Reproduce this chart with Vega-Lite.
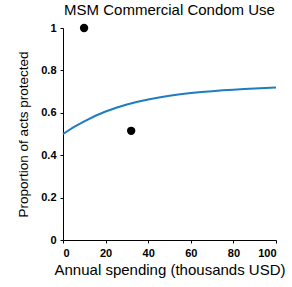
{
  "$schema": "https://vega.github.io/schema/vega-lite/v6.json",
  "width": 213,
  "height": 212,
  "autosize": "none",
  "padding": {"left": 63, "top": 28, "right": 16, "bottom": 47},
  "background": "white",
  "config": {
    "view": {"stroke": null},
    "font": "Liberation Sans"
  },
  "title": {
    "text": "MSM Commercial Condom Use",
    "fontSize": 15,
    "fontWeight": "normal",
    "font": "Liberation Sans",
    "color": "black",
    "anchor": "middle",
    "offset": 4
  },
  "datasets": {
    "curve": [
      {"x": 0, "y": 0.5}, {"x": 5, "y": 0.532}, {"x": 10, "y": 0.560}, {"x": 15, "y": 0.585},
      {"x": 20, "y": 0.606}, {"x": 25, "y": 0.624}, {"x": 30, "y": 0.639}, {"x": 35, "y": 0.652},
      {"x": 40, "y": 0.663}, {"x": 45, "y": 0.672}, {"x": 50, "y": 0.680}, {"x": 55, "y": 0.687},
      {"x": 60, "y": 0.693}, {"x": 65, "y": 0.698}, {"x": 70, "y": 0.702}, {"x": 75, "y": 0.706},
      {"x": 80, "y": 0.709}, {"x": 85, "y": 0.712}, {"x": 90, "y": 0.715}, {"x": 95, "y": 0.717},
      {"x": 100, "y": 0.719}
    ],
    "points": [
      {"x": 9.9, "y": 1.0},
      {"x": 32, "y": 0.515}
    ]
  },
  "layer": [
    {
      "data": {"name": "curve"},
      "mark": {"type": "line", "color": "#1f7cc1", "strokeWidth": 2},
      "encoding": {
        "x": {
          "field": "x", "type": "quantitative",
          "scale": {"domain": [0, 100], "nice": false},
          "axis": {
            "title": "Annual spending (thousands USD)",
            "titleFontSize": 15, "titleFontWeight": "normal", "titleColor": "black",
            "titlePadding": 4,
            "values": [0, 20, 40, 60, 80, 100],
            "labelFontSize": 11, "labelFontWeight": "bold", "labelColor": "black",
            "domainColor": "black", "tickColor": "black", "tickSize": 3,
            "grid": false, "labelPadding": 4
          }
        },
        "y": {
          "field": "y", "type": "quantitative",
          "scale": {"domain": [0, 1], "nice": false},
          "axis": {
            "title": "Proportion of acts protected",
            "titleFontSize": 13.5, "titleFontWeight": "normal", "titleColor": "black",
            "titlePadding": 10,
            "values": [0, 0.2, 0.4, 0.6, 0.8, 1],
            "format": "~g",
            "labelFontSize": 11, "labelFontWeight": "bold", "labelColor": "black",
            "domainColor": "black", "tickColor": "black", "tickSize": 3,
            "grid": false, "labelPadding": 4
          }
        }
      }
    },
    {
      "data": {"name": "points"},
      "mark": {"type": "circle", "color": "black", "opacity": 1, "size": 70},
      "encoding": {
        "x": {"field": "x", "type": "quantitative"},
        "y": {"field": "y", "type": "quantitative"}
      }
    }
  ]
}
